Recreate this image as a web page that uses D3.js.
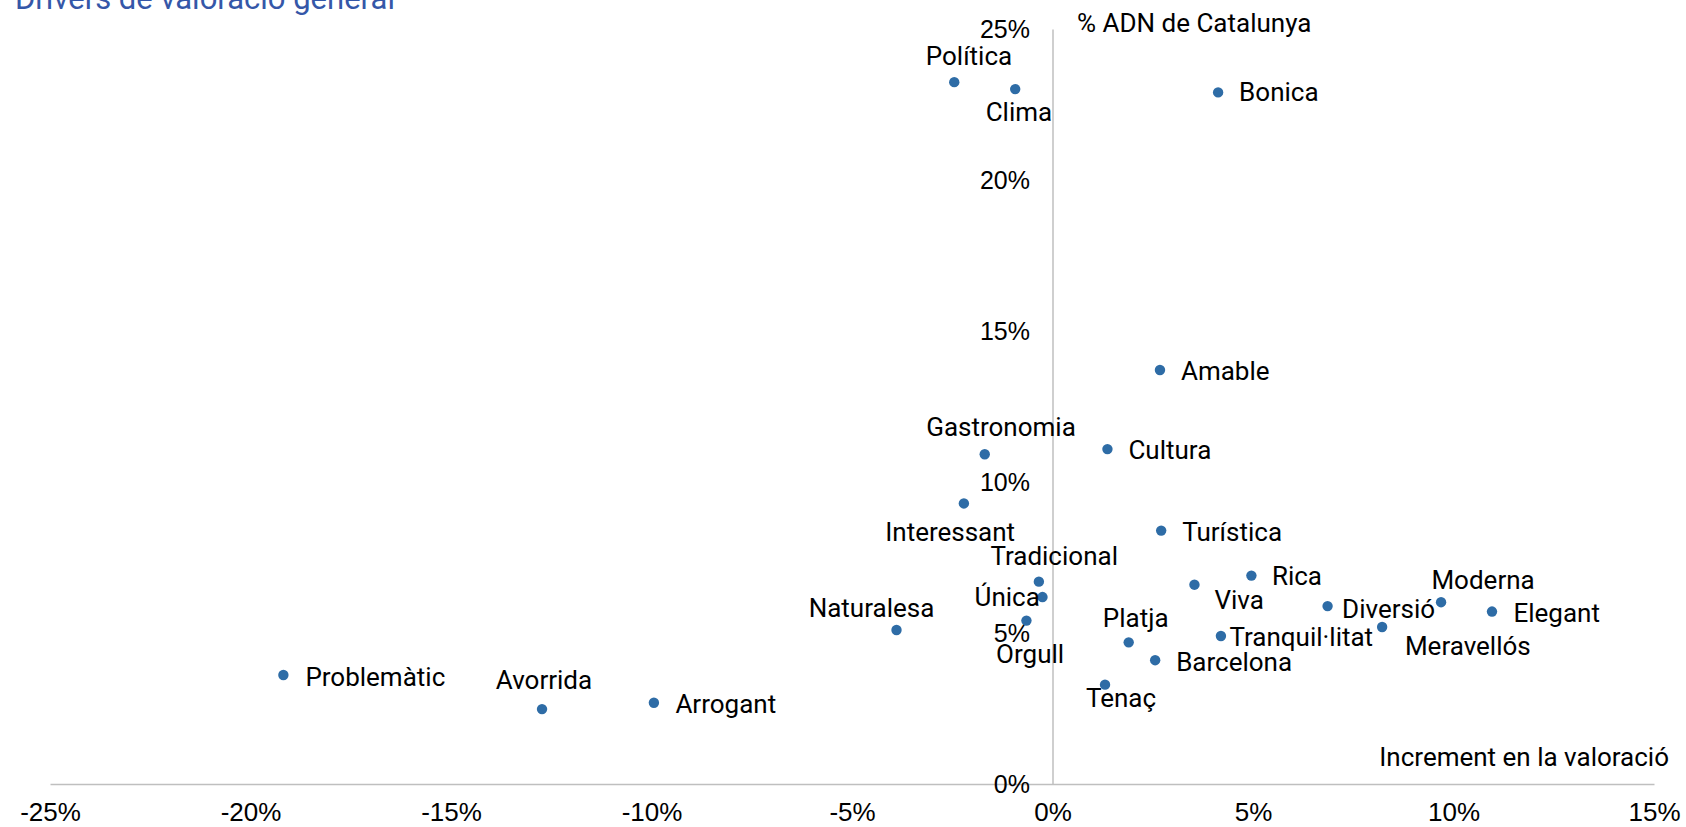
<!DOCTYPE html>
<html>
<head>
<meta charset="utf-8">
<script src="https://cdn.jsdelivr.net/npm/d3@7"></script>
<style>
  html, body { margin: 0; padding: 0; background: #ffffff; }
  svg { display: block; }
</style>
</head>
<body>
<svg id="chart" width="1686" height="827"></svg>
<script>
// ---- data ----
const categories = ["Política","Clima","Bonica","Amable","Gastronomia","Cultura","Interessant","Turística",
  "Tradicional","Única","Orgull","Naturalesa","Platja","Barcelona","Tenaç","Viva","Rica","Tranquil·litat",
  "Diversió","Moderna","Elegant","Meravellós","Problemàtic","Avorrida","Arrogant"];
// Increment en la valoració (%)
const incrementValues = [-2.45,-0.93,4.13,2.68,-1.69,1.37,-2.21,2.71,
  -0.34,-0.25,-0.65,-3.89,1.90,2.56,1.31,3.54,4.96,4.20,
  6.86,9.69,10.96,8.22,-19.18,-12.73,-9.94];
// % ADN de Catalunya
const adnValues = [23.24,23.01,22.90,13.71,10.92,11.09,9.29,8.39,
  6.70,6.19,5.41,5.10,4.69,4.10,3.29,6.60,6.90,4.90,
  5.89,6.02,5.71,5.20,3.61,2.48,2.69];
const xTickValues = [-25,-20,-15,-10,-5,0,5,10,15];
const yTickValues = [0,5,10,15,20,25];
const titleText = "Drivers de valoració general";
const xAxisTitle = "Increment en la valoració";
const yAxisTitle = "% ADN de Catalunya";

// ---- label placement (style) : [dx, dy(baseline), anchor] ----
const labelPlacement = [
  [14.7,-17.3,"middle"],[3.7,31.7,"middle"],[21,8.7,"start"],[21,10,"start"],[16.3,-18.6,"middle"],
  [21,10,"start"],[-13.7,37.7,"middle"],[21,10.3,"start"],[15.3,-16.7,"middle"],[-35.3,9,"middle"],
  [3.7,42.6,"middle"],[-25,-13.3,"middle"],[7,-15.6,"middle"],[21,10.4,"start"],[16,22,"middle"],
  [44.7,24.6,"middle"],[20.5,9.3,"start"],[8.5,9.7,"start"],[14.5,12.3,"start"],[42,-13.3,"middle"],
  [21.5,10,"start"],[85.7,28,"middle"],[22,10.7,"start"],[2,-19.7,"middle"],[21.5,10,"start"]
];

const svg = d3.select("#chart");
const x = d3.scaleLinear().domain([-25, 15]).range([50, 1654]);
const y = d3.scaleLinear().domain([0, 25]).range([784, 29]);

const axisColor = "#bfbfbf";
const tickFont = "'Liberation Sans', Arial, sans-serif";
const labelFont = "Roboto, 'Noto Sans', sans-serif";

// title (partially cut at top)
svg.append("text").attr("x", 15).attr("y", 9)
  .attr("font-family", labelFont).attr("font-size", 31).attr("fill", "#3557a8")
  .text(titleText);

// x axis
const xAxis = svg.append("g").attr("transform", `translate(0,${y(0)})`)
  .call(d3.axisBottom(x).tickValues(xTickValues).tickSize(0).tickPadding(19)
    .tickFormat(d => d + "%"));
xAxis.select(".domain").attr("stroke", axisColor).attr("stroke-width", 1.5);
xAxis.selectAll("text").attr("font-family", tickFont).attr("font-size", 26).attr("fill", "#000");

// y axis
const yAxis = svg.append("g").attr("transform", `translate(${x(0)},0)`)
  .call(d3.axisLeft(y).tickValues(yTickValues).tickSize(0).tickPadding(22.5)
    .tickFormat(d => d + "%"));
yAxis.select(".domain").attr("stroke", axisColor).attr("stroke-width", 1.5);
yAxis.selectAll("text").attr("font-family", tickFont).attr("font-size", 25).attr("fill", "#000");

// axis titles
svg.append("text").attr("x", 1077).attr("y", 31.7)
  .attr("font-family", labelFont).attr("font-size", 26).attr("fill", "#000")
  .text(yAxisTitle);
svg.append("text").attr("x", 1669).attr("y", 766).attr("text-anchor", "end")
  .attr("font-family", labelFont).attr("font-size", 26).attr("fill", "#000")
  .text(xAxisTitle);

// points
const pts = categories.map((c, i) => ({ name: c, xv: incrementValues[i], yv: adnValues[i], lp: labelPlacement[i] }));

svg.append("g").selectAll("circle").data(pts).join("circle")
  .attr("cx", d => x(d.xv)).attr("cy", d => y(d.yv)).attr("r", 5.2)
  .attr("fill", "#2e6ca6");

svg.append("g").selectAll("text").data(pts).join("text")
  .attr("x", d => x(d.xv) + d.lp[0]).attr("y", d => y(d.yv) + d.lp[1])
  .attr("text-anchor", d => d.lp[2])
  .attr("font-family", labelFont).attr("font-size", 26).attr("fill", "#000")
  .text(d => d.name);
</script>
</body>
</html>
